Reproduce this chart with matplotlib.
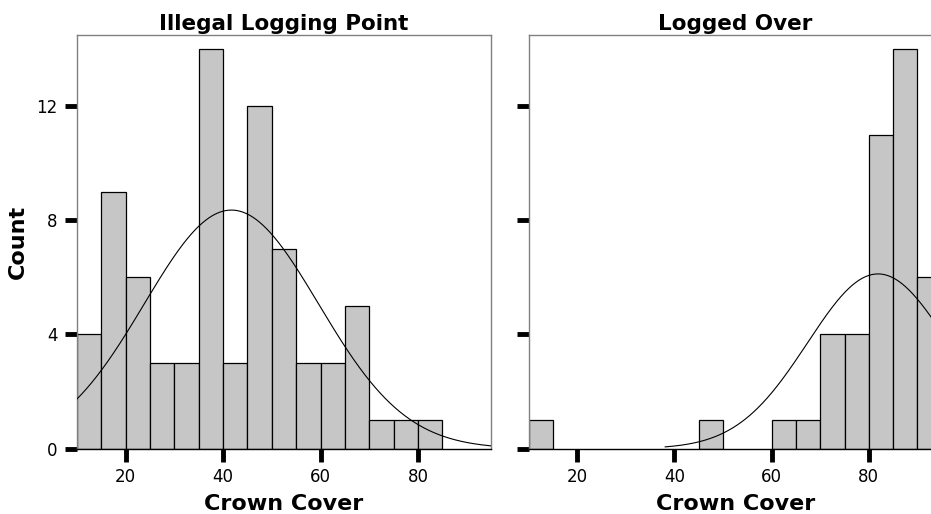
import numpy as np
import matplotlib
matplotlib.use("Agg")
import matplotlib.pyplot as plt

# ---- data ----
bin_width = 5
left_edges = [10, 15, 20, 25, 30, 35, 40, 45, 50, 55, 60, 65, 70, 75, 80]
left_counts = [4, 9, 6, 3, 3, 14, 3, 12, 7, 3, 3, 5, 1, 1, 1]
left_mean, left_sd = 41.7, 17.9

right_edges = [10, 45, 60, 65, 70, 75, 80, 85, 90]
right_counts = [1, 1, 1, 1, 4, 4, 11, 14, 6]
right_mean, right_sd, right_n = 81.9, 14.5, 44.5

titles = ["Illegal Logging Point", "Logged Over"]
xlabel = "Crown Cover"
ylabel = "Count"
xticks = [20, 40, 60, 80]
yticks = [0, 4, 8, 12]
xlim = (10, 95)
ylim = (0, 14.5)

W, H = 931, 514
plt.rcParams['font.family'] = ['DejaVu Sans']
fig = plt.figure(figsize=(W / 100, H / 100), dpi=100)

ax_l = fig.add_axes([77 / W, 65.3 / H, 414 / W, 414 / H])
ax_r = fig.add_axes([528.7 / W, 65.3 / H, 413 / W, 414 / H])

bar_color = '#c6c6c6'
xs = np.linspace(xlim[0], xlim[1], 600)

def normal_curve(mean, sd, n):
    return n * bin_width / (sd * np.sqrt(2 * np.pi)) * np.exp(-0.5 * ((xs - mean) / sd) ** 2)

panels = [
    (ax_l, left_edges, left_counts, left_mean, left_sd, sum(left_counts), titles[0]),
    (ax_r, right_edges, right_counts, right_mean, right_sd, right_n, titles[1]),
]

for ax, edges, counts, mean, sd, n, title in panels:
    ax.bar(edges, counts, width=bin_width, align='edge', color=bar_color,
           edgecolor='black', linewidth=0.9, zorder=2)
    ys = normal_curve(mean, sd, n)
    if ax is ax_r:
        mask = xs >= 38
        ax.plot(xs[mask], ys[mask], color='black', linewidth=0.8, zorder=3)
    else:
        ax.plot(xs, ys, color='black', linewidth=0.8, zorder=3)
    ax.set_xlim(*xlim)
    ax.set_ylim(*ylim)
    ax.set_xticks(xticks)
    ax.set_yticks(yticks)
    ax.tick_params(axis='both', direction='out', length=9, width=3.5, color='black',
                   labelsize=12)
    ax.tick_params(axis='x', pad=5)
    ax.tick_params(axis='y', pad=5)
    for s in ax.spines.values():
        s.set_color('#808080')
        s.set_linewidth(1.0)
    ax.spines['bottom'].set_color('black')
    # title & x label placed in figure pixels
    pos = ax.get_position()
    cx = (pos.x0 + pos.x1) / 2
    fig.text(cx, (H - 30) / H, title, ha='center', va='baseline',
             fontsize=15.5, fontweight='bold')
    fig.text(cx, (H - 510) / H, xlabel, ha='center', va='baseline',
             fontsize=16, fontweight='bold')

fig.text(18 / W, (H - 241.5) / H, ylabel, rotation=90, ha='center', va='center',
         fontsize=16, fontweight='bold')
ax_r.set_yticklabels([])

fig.savefig('out.png', dpi=100)
